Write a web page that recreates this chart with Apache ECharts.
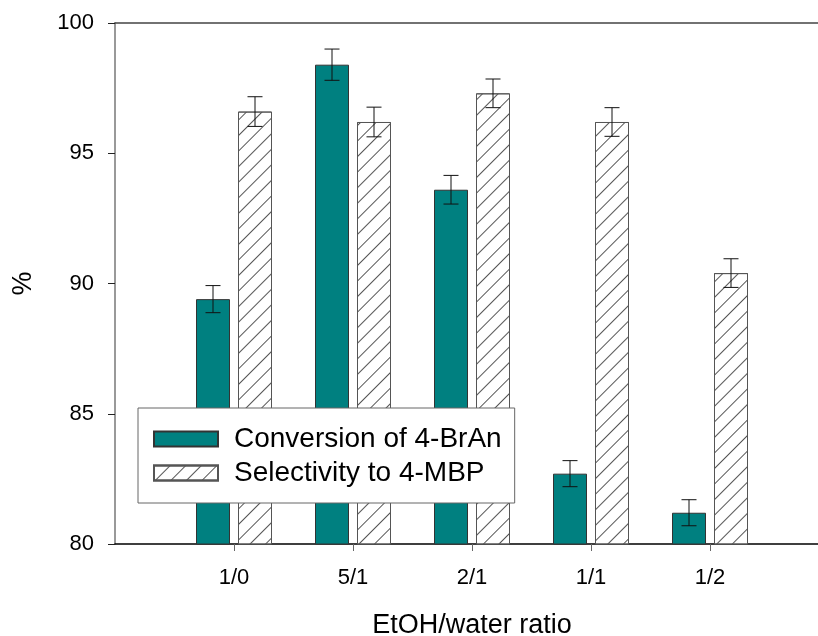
<!DOCTYPE html>
<html>
<head>
<meta charset="utf-8">
<script src="https://cdn.jsdelivr.net/npm/echarts@6/dist/echarts.min.js"></script>
<style>
  html, body { margin: 0; padding: 0; background: #fff; }
  #chart { width: 818px; height: 636px; }
</style>
</head>
<body>
<div id="chart"></div>
<script>
// 数据
const categories = ["1/0", "5/1", "2/1", "1/1", "1/2"];
const conversion = [89.4, 98.4, 93.6, 82.7, 81.2];
const conversionErr = [0.52, 0.6, 0.55, 0.5, 0.5];
const selectivity = [96.6, 96.2, 97.3, 96.2, 90.4];
const selectivityErr = [0.57, 0.57, 0.55, 0.55, 0.55];
const yMin = 80, yMax = 100, yStep = 5;

const FONT = "Liberation Sans";
const BAR_W = 34;
const BAR_GAP = 8;
const OFFSET = (BAR_W + BAR_GAP) / 2;

let chartDom = document.getElementById("chart");
let myChart = echarts.init(chartDom);

function errorBars(sign) {
  return function (params, api) {
    let i = api.value(0);
    let v = api.value(1);
    let e = api.value(2);
    let hi = api.coord([i, v + e]);
    let lo = api.coord([i, v - e]);
    let x = hi[0] + sign * OFFSET;
    let cap = 7.5;
    let style = { stroke: "#111", lineWidth: 1 };
    return {
      type: "group",
      children: [
        { type: "line", shape: { x1: x, y1: hi[1], x2: x, y2: lo[1] }, style: style },
        { type: "line", shape: { x1: x - cap, y1: hi[1], x2: x + cap, y2: hi[1] }, style: style },
        { type: "line", shape: { x1: x - cap, y1: lo[1], x2: x + cap, y2: lo[1] }, style: style },
      ],
    };
  };
}

let option = {
  animation: false,
  backgroundColor: "#fff",
  textStyle: { fontFamily: FONT },
  legend: {
    data: ["Conversion of 4-BrAn", "Selectivity to 4-MBP"],
    orient: "vertical",
    left: 138,
    top: 408,
    padding: [16, 13, 15, 15],
    itemGap: 4,
    itemWidth: 64,
    itemHeight: 15,
    backgroundColor: "#fff",
    borderColor: "#666",
    borderWidth: 1,
    borderRadius: 0,
    icon: "rect",
    textStyle: { fontFamily: FONT, fontSize: 28, color: "#000", lineHeight: 30, padding: [0, 0, 0, 11] },
  },
  grid: [
    // frame
    { left: 115, right: 0, top: 23, bottom: 92, containLabel: false, outerBoundsMode: "none" },
    // bars
    { left: 174.5, right: 48.5, top: 23, bottom: 92, containLabel: false, outerBoundsMode: "none" },
  ],
  xAxis: [
    {
      gridIndex: 0, type: "value", min: 0, max: 1, position: "bottom",
      axisLine: { show: true, lineStyle: { color: "#000", width: 1.5 } },
      axisTick: { show: false }, axisLabel: { show: false }, splitLine: { show: false },
    },
    {
      gridIndex: 0, type: "value", min: 0, max: 1, position: "top",
      axisLine: { show: true, lineStyle: { color: "#444", width: 1.5 } },
      axisTick: { show: false }, axisLabel: { show: false }, splitLine: { show: false },
    },
    {
      gridIndex: 1, type: "category", data: categories,
      axisLine: { show: false },
      axisTick: { show: true, alignWithLabel: true, length: 7, lineStyle: { color: "#666" } },
      axisLabel: { fontSize: 22, color: "#000", margin: 23, fontFamily: FONT },
      name: "EtOH/water ratio",
      nameLocation: "middle",
      nameGap: 68,
      nameTextStyle: { fontSize: 27, color: "#000", fontFamily: FONT },
    },
  ],
  yAxis: [
    {
      gridIndex: 0, type: "value", min: yMin, max: yMax, interval: yStep,
      axisLine: { show: true, lineStyle: { color: "#777", width: 1.5 } },
      axisTick: { show: true, length: 7, lineStyle: { color: "#222" } },
      axisLabel: { fontSize: 22, color: "#000", margin: 21, fontFamily: FONT },
      splitLine: { show: false },
      name: "%",
      nameLocation: "middle",
      nameRotate: 90,
      nameGap: 78,
      nameTextStyle: { fontSize: 27, color: "#000", fontFamily: FONT },
    },
    {
      gridIndex: 1, type: "value", min: yMin, max: yMax, interval: yStep,
      show: false,
    },
  ],
  series: [
    {
      name: "Conversion of 4-BrAn",
      type: "bar",
      xAxisIndex: 2, yAxisIndex: 1,
      barWidth: BAR_W,
      barGap: (BAR_GAP / BAR_W * 100) + "%",
      itemStyle: { color: "#008080", borderColor: "#333", borderWidth: 1 },
      data: conversion,
      z: 2,
    },
    {
      name: "Selectivity to 4-MBP",
      type: "bar",
      xAxisIndex: 2, yAxisIndex: 1,
      barWidth: BAR_W,
      itemStyle: {
        color: "#fff", borderColor: "#555", borderWidth: 1,
        decal: {
          symbol: "rect", symbolSize: 1,
          dashArrayX: [1, 0], dashArrayY: [1, 10],
          rotation: -Math.PI / 4, color: "#555",
        },
      },
      data: selectivity,
      z: 2,
    },
    {
      type: "custom",
      xAxisIndex: 2, yAxisIndex: 1,
      renderItem: errorBars(-1),
      data: conversion.map((v, i) => [i, v, conversionErr[i]]),
      z: 5,
      silent: true,
    },
    {
      type: "custom",
      xAxisIndex: 2, yAxisIndex: 1,
      renderItem: errorBars(1),
      data: selectivity.map((v, i) => [i, v, selectivityErr[i]]),
      z: 5,
      silent: true,
    },
  ],
};

option && myChart.setOption(option);
</script>
</body>
</html>
